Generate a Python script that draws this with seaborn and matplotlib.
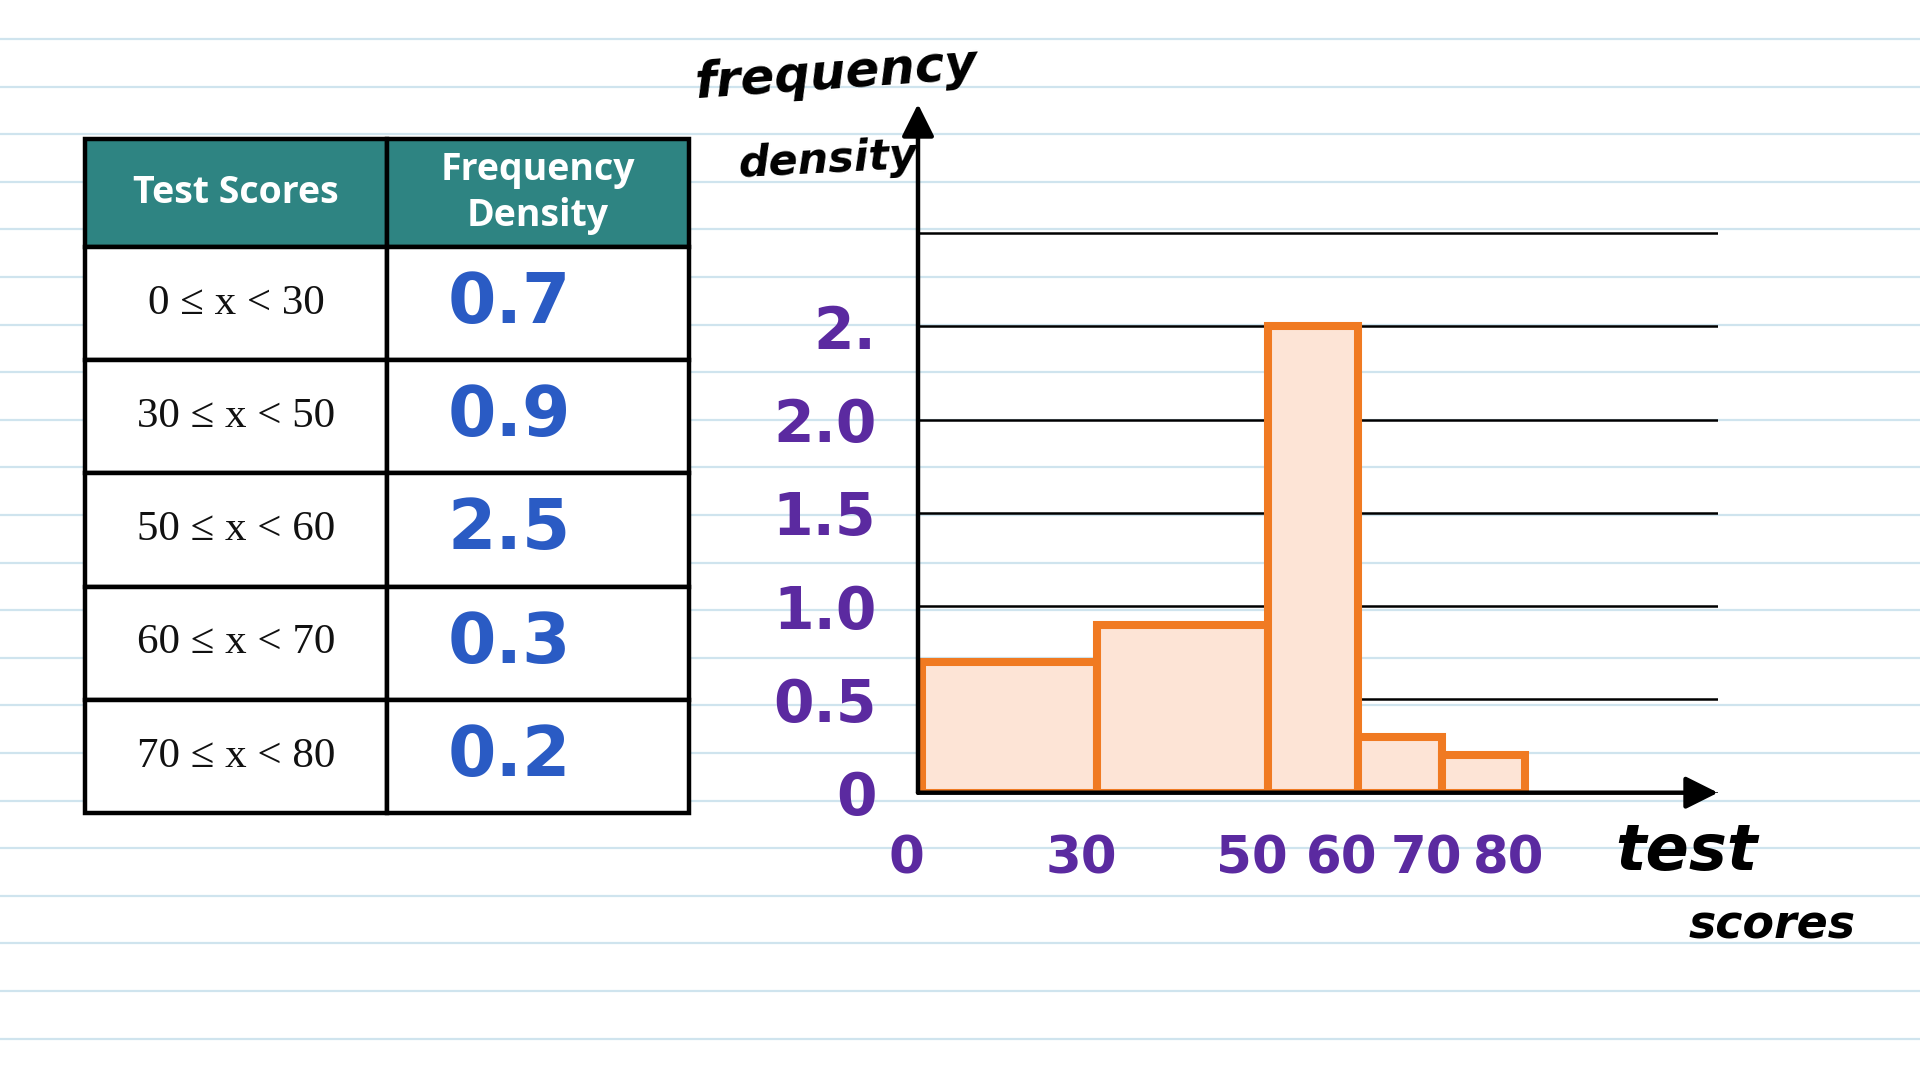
from __future__ import annotations

import matplotlib

matplotlib.use("Agg")
import matplotlib.pyplot as plt
import matplotlib.transforms as mtransforms
from matplotlib.table import Table
import numpy as np
import pandas as pd
import seaborn as sns


SCORE_EDGES = [0, 30, 50, 60, 70, 80]
FREQ_DENSITY = [0.7, 0.9, 2.5, 0.3, 0.2]
CLASS_LABELS = ["0 ≤ x < 30", "30 ≤ x < 50", "50 ≤ x < 60", "60 ≤ x < 70", "70 ≤ x < 80"]
TABLE_HEADER = ["Test Scores", "Frequency\nDensity"]
Y_TICKS = [0, 0.5, 1.0, 1.5, 2.0, 2.5, 3.0]
Y_TICK_LABELS = ["0", "0.5", "1.0", "1.5", "2.0", "2.", ""]
X_TICK_LABELS = ["0", "30", "50", "60", "70", "80"]

# --- layout (pixels of a 1920x1080 canvas) ---
# the hand-drawn axis is not to scale, so class edges sit at these pixel columns
DRAWN_EDGE_PX = [922, 1097, 1268, 1358, 1442, 1525]
AXIS_LEFT_PX, AXIS_RIGHT_PX = 918, 1718
AXIS_BOTTOM_PX, AXIS_TOP_PX = 792.7, 104
PX_PER_UNIT_Y = 186.6
TABLE_BOX_PX = (85, 139, 689, 813)  # left, top, right, bottom

TEAL = "#2e8482"
ORANGE = "#f07a22"
PEACH = "#fde4d6"
PURPLE = "#5b2aa0"
BLUE = "#2a5bc4"
RULE_BLUE = "#cfe4ee"


def fig_rect(left, top, right, bottom):
    return [left / 1920, (1080 - bottom) / 1080, (right - left) / 1920, (bottom - top) / 1080]


def draw_paper(fig):
    bg = fig.add_axes([0, 0, 1, 1], zorder=0)
    bg.set_xlim(0, 1920)
    bg.set_ylim(1080, 0)
    bg.axis("off")
    bg.hlines(np.arange(39, 1080, 47.6), 0, 1920, color=RULE_BLUE, lw=1.6)

    hand = dict(color="black", fontweight="bold", fontstyle="italic", family="DejaVu Sans")
    bg.text(836, 74, "frequency", ha="center", va="center", fontsize=36, rotation=4, **hand)
    bg.text(828, 160, "density", ha="center", va="center", fontsize=31, rotation=3, **hand)
    bg.text(1686, 852, "test", ha="center", va="center", fontsize=46, **hand)
    bg.text(1772, 926, "scores", ha="center", va="center", fontsize=33, **hand)
    return bg


def draw_table(fig):
    tab_ax = fig.add_axes(fig_rect(*TABLE_BOX_PX), zorder=1)
    tab_ax.axis("off")
    table = Table(tab_ax, bbox=[0, 0, 1, 1])
    table.auto_set_font_size(False)

    header_h = 0.16
    row_h = (1 - header_h) / len(CLASS_LABELS)
    for col, name in enumerate(TABLE_HEADER):
        cell = table.add_cell(0, col, 0.5, header_h, text=name, loc="center",
                              facecolor=TEAL, edgecolor="black")
        txt = cell.get_text()
        txt.set_color("white")
        txt.set_fontweight("bold")
        txt.set_fontfamily("Open Sans")
        txt.set_fontsize(27)
        txt.set_linespacing(1.3)

    for row, (label, value) in enumerate(zip(CLASS_LABELS, FREQ_DENSITY), start=1):
        left = table.add_cell(row, 0, 0.5, row_h, text=label, loc="center",
                              facecolor="white", edgecolor="black")
        lt = left.get_text()
        lt.set_fontfamily(["Liberation Serif", "DejaVu Serif"])
        lt.set_fontsize(31)
        lt.set_color("#111111")

        right = table.add_cell(row, 1, 0.5, row_h, text=f"{value:.1f}", loc="left",
                               facecolor="white", edgecolor="black")
        right.PAD = 0.2
        rt = right.get_text()
        rt.set_color(BLUE)
        rt.set_fontweight("bold")
        rt.set_fontfamily("DejaVu Sans")
        rt.set_fontsize(50)

    for cell in table.get_celld().values():
        cell.set_linewidth(3.2)
    tab_ax.add_table(table)
    return table


def draw_histogram(fig):
    ax = fig.add_axes(fig_rect(AXIS_LEFT_PX, AXIS_TOP_PX, AXIS_RIGHT_PX, AXIS_BOTTOM_PX), zorder=2)
    ax.set_facecolor("none")

    edges = np.array(SCORE_EDGES, dtype=float)
    df = pd.DataFrame({"score": (edges[:-1] + edges[1:]) / 2, "density": FREQ_DENSITY})
    sns.histplot(
        data=df,
        x="score",
        weights="density",
        bins=SCORE_EDGES,
        stat="count",
        color=PEACH,
        edgecolor=ORANGE,
        linewidth=5.8,
        alpha=1,
        ax=ax,
        zorder=2,
    )

    # extend the drawn (not to scale) axis linearly out to the two axis ends
    left_val = SCORE_EDGES[0] - (DRAWN_EDGE_PX[0] - AXIS_LEFT_PX) / 5.83
    right_val = SCORE_EDGES[-1] + (AXIS_RIGHT_PX - DRAWN_EDGE_PX[-1]) / 8.3
    knots_val = np.array([left_val] + SCORE_EDGES + [right_val], dtype=float)
    knots_px = np.array([AXIS_LEFT_PX] + DRAWN_EDGE_PX + [AXIS_RIGHT_PX], dtype=float)

    def forward(x):
        return np.interp(x, knots_val, knots_px)

    def inverse(p):
        return np.interp(p, knots_px, knots_val)

    ax.set_xscale("function", functions=(forward, inverse))
    ax.set_xlim(left_val, right_val)
    ax.set_ylim(0, (AXIS_BOTTOM_PX - AXIS_TOP_PX) / PX_PER_UNIT_Y)

    ax.set_xlabel("")
    ax.set_ylabel("")
    for spine in ax.spines.values():
        spine.set_visible(False)

    ax.set_yticks(Y_TICKS)
    ax.set_yticklabels(Y_TICK_LABELS)
    ax.set_xticks(SCORE_EDGES)
    ax.set_xticklabels(X_TICK_LABELS)
    ax.tick_params(axis="both", length=0, labelcolor=PURPLE)
    ax.tick_params(axis="y", pad=30, labelsize=42)
    ax.tick_params(axis="x", pad=30, labelsize=37)
    shift = mtransforms.ScaledTranslation(-16 / 100, 0, fig.dpi_scale_trans)
    for lab in ax.get_xticklabels():
        lab.set_fontweight("bold")
        lab.set_transform(lab.get_transform() + shift)
    for lab in ax.get_yticklabels():
        lab.set_fontweight("bold")

    ax.grid(axis="y", color="black", lw=1.8)
    ax.grid(axis="x", visible=False)
    ax.set_axisbelow(True)

    arrow = dict(arrowstyle="-|>,head_length=0.9,head_width=0.45", lw=3.2, color="black",
                 shrinkA=0, shrinkB=0, mutation_scale=22)
    ax.annotate("", xy=(1, 0), xytext=(0, 0), xycoords="axes fraction",
                arrowprops=arrow, annotation_clip=False, zorder=5)
    ax.annotate("", xy=(0, 1), xytext=(0, 0), xycoords="axes fraction",
                arrowprops=arrow, annotation_clip=False, zorder=5)
    return ax


def main() -> None:
    sns.set_theme(style="white")
    plt.rcParams["font.family"] = ["DejaVu Sans"]
    fig = plt.figure(figsize=(19.2, 10.8), dpi=100)
    fig.patch.set_facecolor("white")

    draw_paper(fig)
    draw_table(fig)
    draw_histogram(fig)

    fig.savefig("out.png", dpi=100)
    plt.close(fig)


if __name__ == "__main__":
    main()
